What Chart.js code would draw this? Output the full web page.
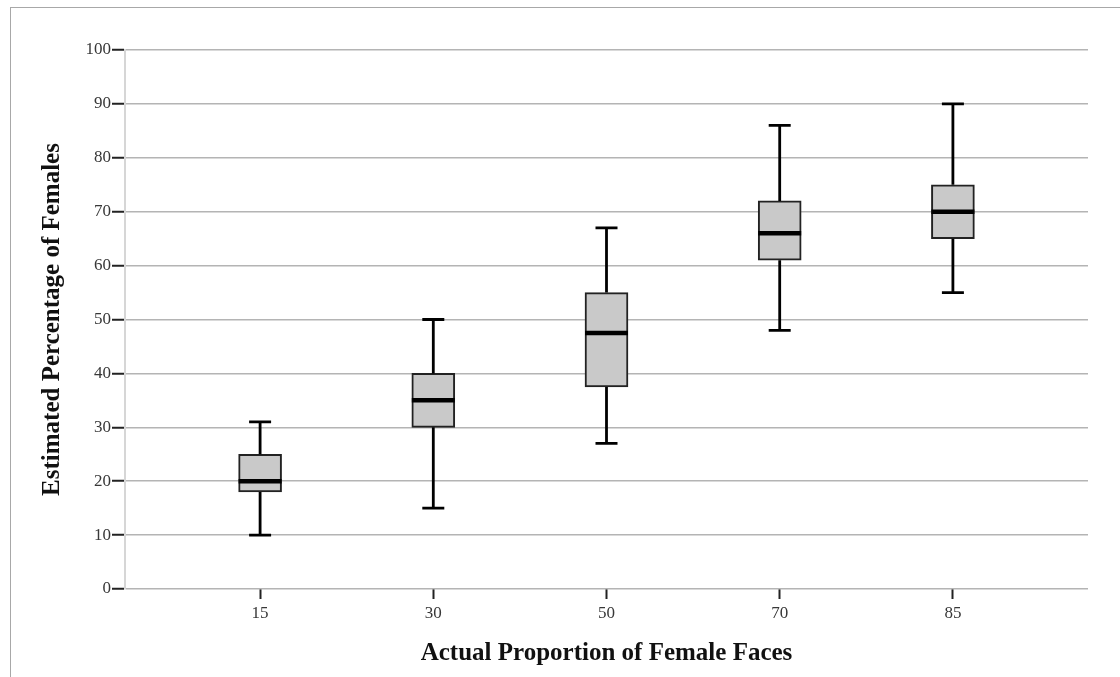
<!DOCTYPE html>
<html>
<head>
<meta charset="utf-8">
<script src="https://cdn.jsdelivr.net/npm/chart.js@4"></script>
<style>
  html, body { margin: 0; padding: 0; background: #fff; overflow: hidden; }
  #wrap { position: relative; width: 1120px; height: 677px; }
  #frame { position: absolute; left: 10px; top: 7px; width: 1120px; height: 680px;
           border-left: 1px solid #a8a8a8; border-top: 1px solid #a8a8a8; pointer-events: none; }
  canvas { position: absolute; left: 0; top: 0; }
</style>
</head>
<body>
<div id="wrap">
  <div id="frame"></div>
  <canvas id="boxChart" width="1120" height="677"></canvas>
</div>
<script>
// five-number summaries per condition
const categories = ['15', '30', '50', '70', '85'];
const whiskerLow = [10, 15, 27, 48, 55];
const quartile1 = [18, 30, 37.5, 61, 65];
const medians = [20, 35, 47.5, 66, 70];
const quartile3 = [25, 40, 55, 72, 75];
const whiskerHigh = [31, 50, 67, 86, 90];
const yTicks = [0, 10, 20, 30, 40, 50, 60, 70, 80, 90, 100];

const serif = "'Liberation Serif', 'DejaVu Serif', serif";
const BOX_W = 43;
const CAP_W = 22;

// whiskers + median bars drawn on top of the floating-bar boxes
const boxExtras = {
  id: 'boxExtras',
  afterDatasetsDraw(chart) {
    const { ctx, scales: { x, y } } = chart;
    ctx.save();
    ctx.strokeStyle = '#000';
    categories.forEach((_, i) => {
      const cx = x.getPixelForValue(i);
      const hi = y.getPixelForValue(whiskerHigh[i]);
      const lo = y.getPixelForValue(whiskerLow[i]);
      const q1 = y.getPixelForValue(quartile1[i]);
      const q3 = y.getPixelForValue(quartile3[i]);
      const md = y.getPixelForValue(medians[i]);
      ctx.lineWidth = 2.8;
      ctx.beginPath();
      ctx.moveTo(cx, q3); ctx.lineTo(cx, hi);
      ctx.moveTo(cx, q1); ctx.lineTo(cx, lo);
      ctx.moveTo(cx - CAP_W / 2, hi); ctx.lineTo(cx + CAP_W / 2, hi);
      ctx.moveTo(cx - CAP_W / 2, lo); ctx.lineTo(cx + CAP_W / 2, lo);
      ctx.stroke();
      ctx.lineWidth = 4.5;
      ctx.beginPath();
      ctx.moveTo(cx - BOX_W / 2, md); ctx.lineTo(cx + BOX_W / 2, md);
      ctx.stroke();
    });
    ctx.restore();
  }
};

new Chart(document.getElementById('boxChart'), {
  type: 'bar',
  data: {
    datasets: [{
      data: categories.map((_, i) => ({ x: i, y: [quartile1[i], quartile3[i]] })),
      backgroundColor: '#c9c9c9',
      borderColor: '#222',
      borderWidth: 2,
      borderSkipped: false,
      barThickness: BOX_W
    }]
  },
  options: {
    responsive: false,
    animation: false,
    events: [],
    layout: { padding: { top: 50, right: 32, left: 0, bottom: 0 } },
    plugins: { legend: { display: false }, tooltip: { enabled: false } },
    scales: {
      x: {
        type: 'linear',
        offset: false,
        min: -0.78,
        max: 4.78,
        afterBuildTicks: (s) => { s.ticks = categories.map((_, i) => ({ value: i })); },
        afterFit: (s) => { s.height = 88; },
        ticks: {
          callback: (v) => categories[v],
          font: { family: serif, size: 17 },
          color: '#383838',
          padding: 4
        },
        grid: { offset: false, drawOnChartArea: false, tickLength: 10, tickColor: '#222', tickWidth: 2 },
        border: { display: false },
        title: {
          display: true,
          text: 'Actual Proportion of Female Faces',
          font: { family: serif, size: 25, weight: 'bold' },
          color: '#111',
          padding: { top: 0, bottom: 8 }
        }
      },
      y: {
        min: 0,
        max: 100,
        afterBuildTicks: (s) => { s.ticks = yTicks.map(v => ({ value: v })); },
        afterFit: (s) => { s.width = 125; },
        ticks: {
          font: { family: serif, size: 17 },
          color: '#383838',
          padding: 1
        },
        grid: { color: '#b4b4b4', lineWidth: 1.5, tickLength: 13, tickColor: '#222', tickWidth: 2 },
        border: { color: '#d6d6d6', width: 2 },
        title: {
          display: true,
          text: 'Estimated Percentage of Females',
          font: { family: serif, size: 25, weight: 'bold' },
          color: '#111',
          padding: { top: 38, bottom: 0 }
        }
      }
    }
  },
  plugins: [boxExtras]
});
</script>
</body>
</html>
